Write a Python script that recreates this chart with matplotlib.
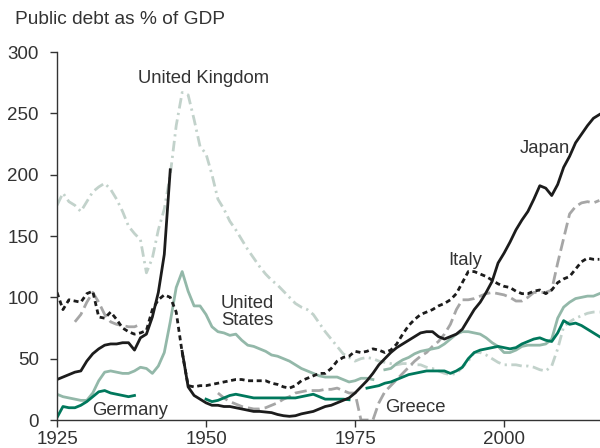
import numpy as np
import matplotlib
matplotlib.use("Agg")
import matplotlib.pyplot as plt

plt.rcParams['font.family'] = ['Liberation Sans', 'DejaVu Sans']

nan = np.nan

# Japan: pre-war run and post-war run
japan_years_a = list(range(1925, 1945))
japan_a = [33, 35, 37, 39, 40, 48, 54, 58, 61, 62, 62, 63, 63, 57, 67, 70, 84, 104, 135, 204]
japan_years_b = list(range(1946, 2017))
japan_b = [56, 27, 20, 17, 14, 12, 12, 11, 11, 10, 9, 8, 7, 7, 6.5, 6, 4.5, 3.5, 3, 3.5,
           5, 6, 7, 9, 11, 12, 14, 16, 18, 22, 27, 32, 38, 45, 50, 55, 59, 62, 65, 68,
           71, 72, 72, 68, 66, 68, 70, 74, 82, 90, 96, 104, 113, 128, 136, 145, 155, 163, 170, 180,
           191, 189, 183, 192, 206, 215, 226, 233, 240, 246, 249]

# Italy, 1925-2016
italy_years = list(range(1925, 2017))
italy = [104, 90, 98, 97, 96, 103, 105, 84, 83, 88, 82, 75, 72, 70, 71, 73, 90, 98, 102, 100,
         88, 55, 28, 27, 28, 28, 29, 30, 31, 32, 33, 33, 32, 32, 32, 32, 30, 29, 27, 26,
         28, 32, 34, 36, 38, 38, 42, 48, 51, 52, 56, 55, 56, 58, 57, 55, 57, 62, 70, 77,
         82, 86, 88, 90, 93, 95, 98, 103, 112, 121, 121, 119, 117, 114, 111, 109, 108, 105, 103, 103,
         105, 106, 103, 106, 112, 115, 117, 123, 129, 132, 131, 131]

# Germany
germany_years_a = list(range(1925, 1939))
germany_a = [2, 11, 10, 10, 12, 15, 19, 23, 24, 22, 21, 20, 19, 20]
germany_years_b = list(range(1950, 2017))
germany_b = [17, 15, 16, 18, 20, 21, 20, 19, 18, 18, 18, 18, 18, 18, 18, 18, 19, 20, 21, 19,
             17, 17, 17, 17, 16.5, nan, nan, 26, 27, 28, 30, 31, 33, 35, 37, 38, 39, 40, 40, 40,
             40, 38, 40, 43, 50, 55, 57, 58, 59, 60, 59, 58, 59, 62, 64, 66, 67, 65, 64, 71,
             81, 78, 79, 77, 74, 71, 68]

# United States, 1925-2016
us_years = list(range(1925, 2017))
us = [21, 19, 18, 17, 16, 16, 22, 32, 39, 40, 39, 38, 38, 40, 43, 42, 38, 44, 55, 80,
      108, 121, 105, 93, 93, 86, 76, 72, 71, 69, 70, 65, 61, 60, 58, 56, 53, 52, 50, 48,
      45, 42, 40, 38, 36, 35, 35, 35, 33, 31, 32, 34, 34, 33, nan, 41, 42, 46, 49, 51,
      54, 56, 57, 58, 59, 62, 66, 70, 72, 72, 71, 70, 67, 63, 60, 55, 55, 57, 60, 61,
      61, 61, 62, 66, 83, 92, 96, 99, 100, 101, 101, 103]

# United Kingdom, 1925-2016
uk_years = list(range(1925, 2017))
uk = [175, 185, 178, 175, 170, 178, 186, 190, 193, 188, 180, 170, 158, 152, 147, 120, 132, 155, 172, 200,
      240, 267, 265, 245, 223, 217, 200, 180, 172, 162, 155, 147, 139, 132, 125, 119, 114, 110, 105, 100,
      95, 92, 90, 86, 79, 72, 66, 60, 54, 51, 48, 50, 51, 50, 48, 47, 46, 45, 46, 46,
      45, 45, 43, 42, 40, 38, 37, 38, 43, 48, 55, 55, 53, 50, 47, 45, 45, 45, 44, 44,
      43, 41, 40, 44, 58, 76, 80, 83, 85, 87, 88, 88]

# Greece
greece_years_a = list(range(1928, 1940))
greece_a = [80, 86, 96, 104, 96, 86, 80, 78, 77, 76, 76, 78]
greece_years_b = list(range(1952, 2017))
greece_b = [22, 18, 15, 13, 11, 10, 9, 9, 10, 12, 14, 17, 19, 22, 23, 24, 24, 24, 25, 25,
            26, 24, 22, 22, 0, 0, 0, 14, 23, 28, 33, 38, 43, 48, 52, 55, 60, 64, 70, 78,
            90, 98, 98, 99, 101, 103, 104, 103, 102, 100, 97, 97, 100, 104, 104, 104, 106, 128, 148, 168,
            174, 177, 178, 177, 179]

c_japan = '#1c1c1c'
c_italy = '#1c1c1c'
c_germany = '#00785c'
c_us = '#93b8a9'
c_uk = '#c2d2cb'
c_greece = '#a6a6a6'
text_c = '#333333'

fig = plt.figure(figsize=(6, 4.48), dpi=100)
ax = fig.add_axes([0.095, 0.0625, 0.905, 0.8214])

lw = 2.0
ax.plot(uk_years, uk, color=c_uk, lw=lw, linestyle=(0, (3.8, 1.6, 0.8, 1.6)))
ax.plot(greece_years_a, greece_a, color=c_greece, lw=lw, linestyle=(0, (4.3, 1.8)))
ax.plot(greece_years_b, greece_b, color=c_greece, lw=lw, linestyle=(0, (4.3, 1.8)))
ax.plot(us_years, us, color=c_us, lw=lw)
ax.plot(germany_years_a, germany_a, color=c_germany, lw=lw)
ax.plot(germany_years_b, germany_b, color=c_germany, lw=lw)
ax.plot(italy_years, italy, color=c_italy, lw=lw, linestyle=(0, (1.8, 1.3)))
ax.plot(japan_years_a, japan_a, color=c_japan, lw=lw)
ax.plot(japan_years_b, japan_b, color=c_japan, lw=lw)

ax.set_xlim(1925, 2016.1)
ax.set_ylim(0, 300)
ax.set_xticks([1925, 1950, 1975, 2000])
ax.set_yticks(range(0, 301, 50))

for side in ('top', 'right'):
    ax.spines[side].set_visible(False)
for side in ('left', 'bottom'):
    ax.spines[side].set_color(text_c)
    ax.spines[side].set_linewidth(1.0)
ax.tick_params(axis='both', colors=text_c, labelsize=13.5, length=5, width=1.0)
ax.tick_params(axis='y', pad=8)
ax.tick_params(axis='x', pad=3)

label_kw = dict(fontsize=13.3, color=text_c, va='center', ha='left')
ax.text(1938.6, 278, 'United Kingdom', **label_kw)
ax.text(1952.5, 88, 'United\nStates', linespacing=1.0, **label_kw)
ax.text(1930.9, 8, 'Germany', **label_kw)
ax.text(1980.0, 10.5, 'Greece', **label_kw)
ax.text(1990.6, 130, 'Italy', **label_kw)
ax.text(2002.7, 221, 'Japan', **label_kw)

fig.text(15 / 600, 1 - 20 / 448, 'Public debt as % of GDP', fontsize=13.8,
         color=text_c, va='center', ha='left')

fig.savefig('out.png', dpi=100)
